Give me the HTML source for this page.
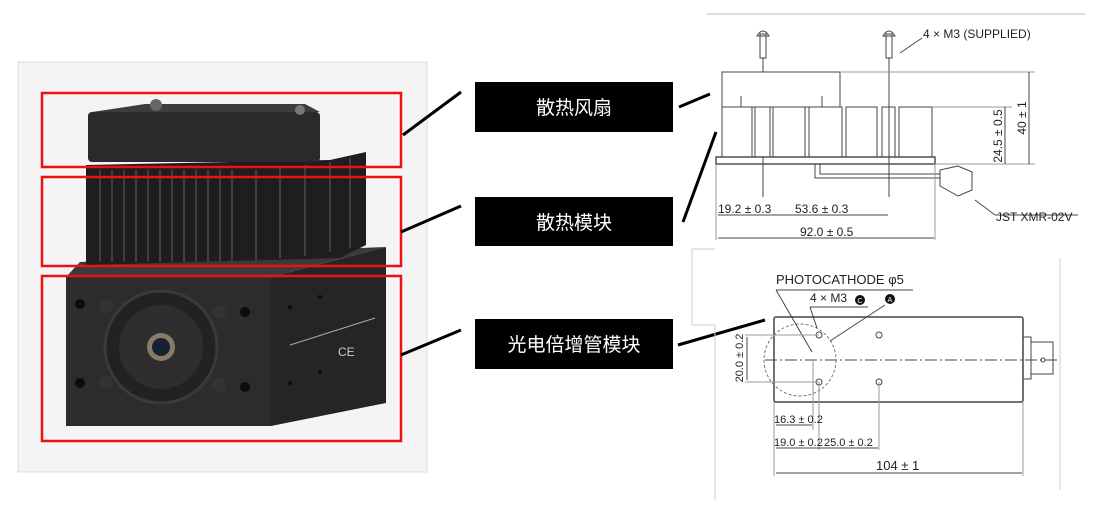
<!DOCTYPE html>
<html><head><meta charset="utf-8"><style>
html,body{margin:0;padding:0;background:#fff;}
svg{display:block;}
.t{font-family:"Liberation Sans",sans-serif;fill:#222;}
.c{font-family:"Liberation Sans","Noto Sans CJK SC",sans-serif;fill:#fff;font-size:19px;}
</style></head><body>
<svg width="1095" height="514" viewBox="0 0 1095 514" xmlns="http://www.w3.org/2000/svg">
<rect x="18" y="62" width="409" height="410" fill="#f4f4f4" stroke="#ddd"/>
<polygon points="271,277 386,247 386,403 271,426" fill="#252527"/>
<polygon points="66,277 80,262 360,248 386,247 271,277" fill="#3a3a3c"/>
<polygon points="86,165 330,160 366,152 366,245 340,258 86,265" fill="#1e1e20"/>
<g stroke="#555" stroke-width="1.2">
<line x1="100" y1="170" x2="100" y2="262"/><line x1="112" y1="170" x2="112" y2="262"/><line x1="124" y1="170" x2="124" y2="262"/><line x1="136" y1="170" x2="136" y2="262"/><line x1="148" y1="170" x2="148" y2="262"/><line x1="160" y1="170" x2="160" y2="262"/><line x1="172" y1="170" x2="172" y2="262"/><line x1="184" y1="170" x2="184" y2="262"/><line x1="196" y1="170" x2="196" y2="262"/><line x1="208" y1="170" x2="208" y2="262"/><line x1="220" y1="170" x2="220" y2="262"/><line x1="232" y1="170" x2="232" y2="262"/><line x1="256" y1="170" x2="256" y2="260"/><line x1="280" y1="165" x2="280" y2="258"/><line x1="305" y1="165" x2="305" y2="256"/><line x1="330" y1="162" x2="330" y2="252"/><line x1="350" y1="158" x2="350" y2="248"/>
</g>
<rect x="88" y="112" width="232" height="50" rx="4" fill="#2a2a2c"/>
<polygon points="92,112 145,104 305,104 320,112" fill="#3c3c3e"/>
<circle cx="156" cy="105" r="6" fill="#666"/><circle cx="300" cy="110" r="5" fill="#777"/>
<rect x="66" y="277" width="205" height="149" fill="#2c2c2e"/>
<circle cx="161" cy="347" r="56" fill="#222" stroke="#3a3a3a" stroke-width="3"/>
<circle cx="161" cy="347" r="42" fill="#2e2e30"/>
<circle cx="161" cy="347" r="14" fill="#8a7a68"/><circle cx="161" cy="347" r="9" fill="#182033"/>
<g fill="#0c0c0c">
<circle cx="80" cy="304" r="5"/><circle cx="245" cy="312" r="5"/><circle cx="80" cy="383" r="5"/><circle cx="245" cy="387" r="5"/>
<circle cx="106" cy="306" r="7" fill="#333"/><circle cx="219" cy="312" r="7" fill="#333"/><circle cx="106" cy="383" r="7" fill="#333"/><circle cx="219" cy="385" r="7" fill="#333"/>
<circle cx="290" cy="307" r="2"/><circle cx="320" cy="297" r="2"/><circle cx="290" cy="383" r="2"/><circle cx="320" cy="372" r="2"/>
</g>
<line x1="290" y1="345" x2="375" y2="318" stroke="#aaa" stroke-width="1"/>
<text x="338" y="356" font-family="Liberation Sans" font-size="12" fill="#ccc">CE</text>
<g fill="none" stroke="#ee1111" stroke-width="2.5">
<rect x="42" y="93" width="359" height="74"/><rect x="42" y="177" width="359" height="89"/><rect x="42" y="276" width="359" height="165"/>
</g>
<g stroke="#000" stroke-width="3">
<line x1="403" y1="135" x2="461" y2="92"/><line x1="401" y1="232" x2="461" y2="206"/><line x1="401" y1="355" x2="461" y2="330"/>
<line x1="679" y1="107" x2="710" y2="94"/><line x1="683" y1="222" x2="716" y2="132"/><line x1="678" y1="345" x2="765" y2="320"/>
</g>
<rect x="475" y="82" width="198" height="50" fill="#000"/>
<text class="c" x="574" y="114" text-anchor="middle">散热风扇</text>
<rect x="475" y="197" width="198" height="49" fill="#000"/>
<text class="c" x="574" y="229" text-anchor="middle">散热模块</text>
<rect x="475" y="319" width="198" height="50" fill="#000"/>
<text class="c" x="574" y="351" text-anchor="middle">光电倍增管模块</text>

<g stroke="#444" fill="none" stroke-width="1">
<line x1="707" y1="14" x2="1085" y2="14" stroke="#bbb"/>
<rect x="722" y="72" width="118" height="35"/>
<line x1="741" y1="96" x2="741" y2="107"/><line x1="822" y1="96" x2="822" y2="107"/>
<rect x="722" y="107" width="30" height="50"/><rect x="755" y="107" width="15" height="50"/><rect x="773" y="107" width="32" height="50"/><rect x="809" y="107" width="33" height="50"/><rect x="846" y="107" width="31" height="50"/><rect x="882" y="107" width="13" height="50"/><rect x="899" y="107" width="33" height="50"/>
<rect x="716" y="157" width="219" height="7" stroke-width="1.4"/>
<rect x="760" y="34" width="6" height="24"/><path d="M757 36 Q763 26 769 36Z"/>
<rect x="886" y="34" width="6" height="24"/><path d="M883 36 Q889 26 895 36Z"/>
<line x1="763" y1="58" x2="763" y2="72"/><line x1="889" y1="58" x2="889" y2="197"/><line x1="763" y1="157" x2="763" y2="197"/>
<line x1="900" y1="53" x2="922" y2="38"/>
<line x1="840" y1="72" x2="1035" y2="72" stroke="#999"/><line x1="935" y1="164" x2="1035" y2="164" stroke="#999"/><line x1="932" y1="107" x2="1012" y2="107" stroke="#999"/>
<line x1="1029" y1="72" x2="1029" y2="164"/><line x1="1005" y1="107" x2="1005" y2="164"/>
<path d="M815 164 V178 H940 M820 164 V174 H940"/>
<path d="M940 170 L958 166 L972 172 L972 190 L958 196 L940 186Z"/>
<line x1="975" y1="200" x2="995" y2="215"/><line x1="995" y1="215" x2="1078" y2="215"/>
<line x1="716" y1="164" x2="716" y2="240" stroke="#999"/><line x1="935" y1="164" x2="935" y2="240" stroke="#999"/>
<line x1="718" y1="215" x2="888" y2="215"/><line x1="718" y1="238" x2="934" y2="238"/>
<path d="M692 249 V325 H715 V500 M692 249 H715" stroke="#ccc"/>
<line x1="1060" y1="258" x2="1060" y2="490" stroke="#ccc"/>
<rect x="774" y="317" width="249" height="85" rx="2" stroke-width="1.5"/>
<rect x="1023" y="337" width="8" height="42"/><rect x="1031" y="342" width="22" height="32"/>
<line x1="765" y1="360" x2="1060" y2="360" stroke-dasharray="12 3 2 3"/>
<circle cx="800" cy="360" r="36" stroke-dasharray="3 2" stroke="#777"/>
<circle cx="819" cy="335" r="3"/><circle cx="879" cy="335" r="3"/><circle cx="819" cy="382" r="3"/><circle cx="879" cy="382" r="3"/>
<circle cx="1043" cy="360" r="2"/>
<line x1="776" y1="290" x2="913" y2="290"/><line x1="776" y1="290" x2="812" y2="352"/>
<line x1="810" y1="307" x2="868" y2="307"/><line x1="810" y1="307" x2="817" y2="328"/>
<line x1="885" y1="305" x2="830" y2="341"/>
<line x1="745" y1="335" x2="819" y2="335" stroke="#999"/><line x1="745" y1="382" x2="819" y2="382" stroke="#999"/>
<line x1="747" y1="337" x2="747" y2="380"/>
<line x1="774" y1="402" x2="774" y2="476" stroke="#999"/><line x1="813" y1="360" x2="813" y2="430" stroke="#999"/><line x1="819" y1="382" x2="819" y2="450" stroke="#999"/><line x1="879" y1="382" x2="879" y2="450" stroke="#999"/><line x1="1023" y1="402" x2="1023" y2="476" stroke="#999"/>
<line x1="776" y1="425" x2="812" y2="425"/><line x1="776" y1="448" x2="878" y2="448"/><line x1="776" y1="473" x2="1022" y2="473"/>
</g>
<circle cx="860" cy="300" r="5" fill="#111"/><circle cx="890" cy="299" r="5" fill="#111"/>
<text x="857.5" y="303" font-size="7" fill="#fff" font-family="Liberation Sans">C</text>
<text x="887.5" y="302" font-size="7" fill="#fff" font-family="Liberation Sans">A</text>
<g class="t" font-size="12">
<text x="923" y="38">4 × M3 (SUPPLIED)</text>
<text x="996" y="221">JST XMR-02V</text>
<text x="718" y="213">19.2 ± 0.3</text>
<text x="795" y="213">53.6 ± 0.3</text>
<text x="800" y="236">92.0 ± 0.5</text>
<text transform="translate(1026,118) rotate(-90)" text-anchor="middle">40 ± 1</text>
<text transform="translate(1002,136) rotate(-90)" text-anchor="middle">24.5 ± 0.5</text>
<text x="776" y="284" font-size="13">PHOTOCATHODE φ5</text>
<text x="810" y="302">4 × M3</text>
<text transform="translate(743,358) rotate(-90)" text-anchor="middle" font-size="11">20.0 ± 0.2</text>
<text x="774" y="423" font-size="11">16.3 ± 0.2</text>
<text x="774" y="446" font-size="11">19.0 ± 0.2</text>
<text x="824" y="446" font-size="11">25.0 ± 0.2</text>
<text x="876" y="470" font-size="13">104 ± 1</text>
</g>
</svg>
</body></html>
